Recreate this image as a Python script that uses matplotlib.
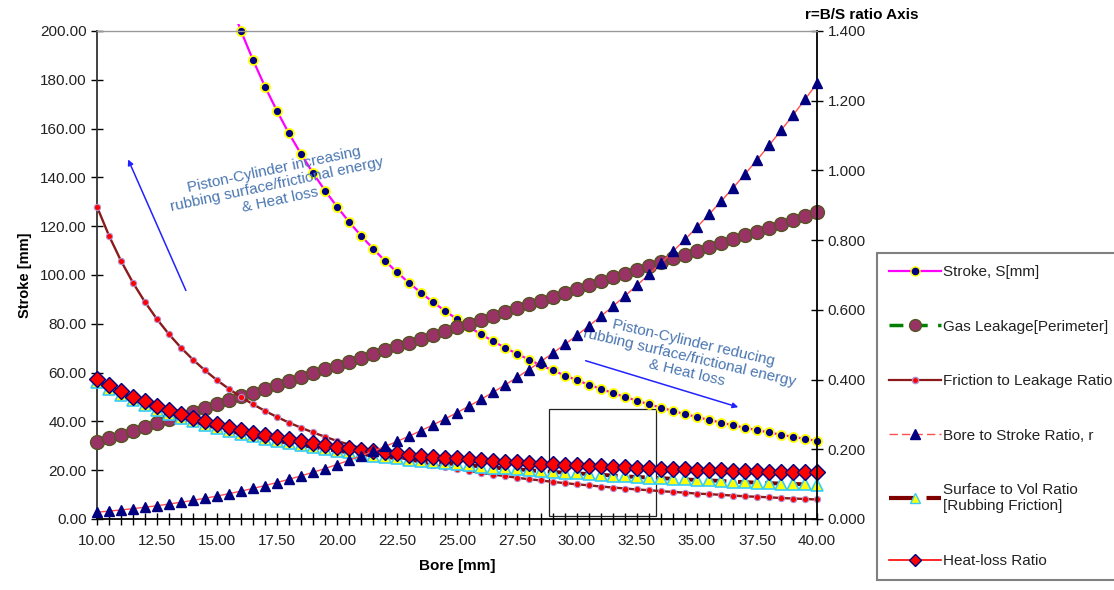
import numpy as np
import matplotlib
matplotlib.use("Agg")
import matplotlib.pyplot as plt
from matplotlib.lines import Line2D
from matplotlib.patches import Rectangle

plt.rcParams['font.family'] = ['Liberation Sans', 'DejaVu Sans']

# Bore [mm], 0.5 mm steps
bore = [10.0, 10.5, 11.0, 11.5, 12.0, 12.5, 13.0, 13.5, 14.0, 14.5,
        15.0, 15.5, 16.0, 16.5, 17.0, 17.5, 18.0, 18.5, 19.0, 19.5,
        20.0, 20.5, 21.0, 21.5, 22.0, 22.5, 23.0, 23.5, 24.0, 24.5,
        25.0, 25.5, 26.0, 26.5, 27.0, 27.5, 28.0, 28.5, 29.0, 29.5,
        30.0, 30.5, 31.0, 31.5, 32.0, 32.5, 33.0, 33.5, 34.0, 34.5,
        35.0, 35.5, 36.0, 36.5, 37.0, 37.5, 38.0, 38.5, 39.0, 39.5, 40.0]

stroke = [512.0, 464.4, 423.1, 387.1, 355.6, 327.7, 303.0, 280.9, 261.2, 243.5,
          227.6, 213.1, 200.0, 188.1, 177.2, 167.2, 158.0, 149.6, 141.8, 134.6,
          128.0, 121.8, 116.1, 110.8, 105.8, 101.1, 96.8, 92.7, 88.9, 85.3,
          81.9, 78.7, 75.7, 72.9, 70.2, 67.7, 65.3, 63.0, 60.9, 58.8,
          56.9, 55.0, 53.3, 51.6, 50.0, 48.5, 47.0, 45.6, 44.3, 43.0,
          41.8, 40.6, 39.5, 38.4, 37.4, 36.4, 35.5, 34.5, 33.7, 32.8, 32.0]

gas_leakage = [31.4, 33.0, 34.6, 36.1, 37.7, 39.3, 40.8, 42.4, 44.0, 45.6,
               47.1, 48.7, 50.3, 51.8, 53.4, 55.0, 56.5, 58.1, 59.7, 61.3,
               62.8, 64.4, 66.0, 67.5, 69.1, 70.7, 72.3, 73.8, 75.4, 77.0,
               78.5, 80.1, 81.7, 83.3, 84.8, 86.4, 88.0, 89.5, 91.1, 92.7,
               94.2, 95.8, 97.4, 99.0, 100.5, 102.1, 103.7, 105.2, 106.8, 108.4,
               110.0, 111.5, 113.1, 114.7, 116.2, 117.8, 119.4, 121.0, 122.5, 124.1, 125.7]

friction = [128.0, 116.1, 105.8, 96.8, 88.9, 81.9, 75.7, 70.2, 65.3, 60.9,
            56.9, 53.3, 50.0, 47.0, 44.3, 41.8, 39.5, 37.4, 35.5, 33.7,
            32.0, 30.5, 29.0, 27.7, 26.4, 25.3, 24.2, 23.2, 22.2, 21.3,
            20.5, 19.7, 18.9, 18.2, 17.6, 16.9, 16.3, 15.8, 15.2, 14.7,
            14.2, 13.8, 13.3, 12.9, 12.5, 12.1, 11.8, 11.4, 11.1, 10.8,
            10.4, 10.2, 9.9, 9.6, 9.3, 9.1, 8.9, 8.6, 8.4, 8.2, 8.0]

bs_ratio = [0.0195, 0.0226, 0.0260, 0.0297, 0.0338, 0.0381, 0.0429, 0.0481, 0.0536, 0.0595,
            0.0659, 0.0727, 0.0800, 0.0877, 0.0960, 0.1047, 0.1139, 0.1237, 0.1340, 0.1448,
            0.1563, 0.1683, 0.1809, 0.1941, 0.2080, 0.2225, 0.2376, 0.2535, 0.2700, 0.2872,
            0.3052, 0.3239, 0.3433, 0.3635, 0.3844, 0.4062, 0.4288, 0.4521, 0.4763, 0.5014,
            0.5273, 0.5542, 0.5819, 0.6105, 0.6400, 0.6705, 0.7019, 0.7343, 0.7677, 0.8020,
            0.8374, 0.8738, 0.9113, 0.9497, 0.9893, 1.0300, 1.0717, 1.1146, 1.1586, 1.2037, 1.2500]

surf_vol = [56.0, 53.3, 50.9, 48.7, 46.7, 44.8, 43.1, 41.5, 40.0, 38.6,
            37.3, 36.1, 35.0, 33.9, 32.9, 32.0, 31.1, 30.3, 29.5, 28.7,
            28.0, 27.3, 26.7, 26.0, 25.5, 24.9, 24.3, 23.8, 23.3, 22.9,
            22.4, 22.0, 21.5, 21.1, 20.7, 20.4, 20.0, 19.6, 19.3, 19.0,
            18.7, 18.4, 18.1, 17.8, 17.5, 17.2, 17.0, 16.7, 16.5, 16.2,
            16.0, 15.8, 15.6, 15.3, 15.1, 14.9, 14.7, 14.5, 14.4, 14.2, 14.0]

heat_loss = [57.5, 54.8, 52.4, 50.2, 48.2, 46.3, 44.6, 43.0, 41.5, 40.1,
             38.8, 37.6, 36.5, 35.4, 34.4, 33.5, 32.6, 31.8, 31.0, 30.2,
             29.5, 28.9, 28.4, 27.8, 27.4, 26.9, 26.3, 25.9, 25.5, 25.2,
             24.8, 24.5, 24.1, 23.8, 23.5, 23.2, 22.9, 22.6, 22.4, 22.2,
             22.0, 21.8, 21.6, 21.4, 21.2, 21.0, 20.8, 20.6, 20.5, 20.3,
             20.2, 20.1, 20.0, 19.8, 19.7, 19.6, 19.4, 19.3, 19.3, 19.2, 19.1]

text_col = '#222222'
note_col = '#4a76b0'

fig = plt.figure(figsize=(11.14, 5.9), dpi=100)
ax = fig.add_axes([97 / 1114, 1 - 519 / 590, 720 / 1114, 488 / 590])
ax2 = ax.twinx()

# stroke goes off the top, so clip it with a slightly bigger box
clip = Rectangle((-0.03, -0.03), 1.06, 1.045, transform=ax.transAxes, visible=False)
ax.add_patch(clip)
l_stroke, = ax.plot(bore, stroke, color='#ff00ff', lw=1.6, marker='o', ms=6.5,
                    mfc='#000080', mec='#ffff00', mew=1.3, zorder=3)
l_stroke.set_clip_path(clip)

l_gas, = ax.plot(bore, gas_leakage, color='#008000', lw=2.2, ls=(0, (4, 3)), marker='o',
                 ms=10, mfc='#993366', mec='#555522', mew=1.0, clip_on=False, zorder=3)
l_fric, = ax.plot(bore, friction, color='#8b1a1a', lw=1.7, marker='o', ms=4.5,
                  mfc='#ff0000', mec='#b090d0', mew=0.8, clip_on=False, zorder=3)
l_surf, = ax.plot(bore, surf_vol, color='#800000', lw=2.8, ls=(0, (4, 3)), marker='^',
                  ms=8, mfc='#ffff00', mec='#33ccff', mew=1.2, clip_on=False, zorder=3)
l_heat, = ax.plot(bore, heat_loss, color='#ff0000', lw=1.0, marker='D', ms=8,
                  mfc='#ff0000', mec='#000080', mew=1.0, clip_on=False, zorder=3)

l_bs, = ax2.plot(bore, bs_ratio, color='#ff5050', lw=1.0, marker='^', ms=7,
                 mfc='#000080', mec='#000080', clip_on=False, zorder=3)

# annotation box and notes
ax.add_patch(Rectangle((28.83, 1.2), 4.46, 43.9, fill=False, ec='#222222', lw=0.9, zorder=2))
ax.annotate('', xy=(11.25, 148.4), xytext=(13.75, 92.6),
            arrowprops=dict(arrowstyle='-|>', color='#2222ff', lw=1.1, mutation_scale=8))
ax.annotate('', xy=(36.83, 45.5), xytext=(30.25, 65.2),
            arrowprops=dict(arrowstyle='-|>', color='#2222ff', lw=1.1, mutation_scale=8))
ax.text(17.5, 137, 'Piston-Cylinder increasing\nrubbing surface/frictional energy\n& Heat loss',
        color=note_col, fontsize=11, ha='center', va='center', rotation=12,
        rotation_mode='anchor', multialignment='center', linespacing=1.15)
ax.text(34.7, 66, 'Piston-Cylinder reducing\nrubbing surface/frictional energy\n& Heat loss',
        color=note_col, fontsize=11, ha='center', va='center', rotation=-13,
        rotation_mode='anchor', multialignment='center', linespacing=1.15)

# axes
ax.set_xlim(10, 40)
ax.set_ylim(0, 200)
ax2.set_ylim(0, 1.4)
ax.set_xticks(np.arange(10, 40.01, 2.5))
ax.set_xticks(np.arange(10, 40.01, 0.5), minor=True)
ax.set_yticks(np.arange(0, 200.01, 20))
ax2.set_yticks(np.arange(0, 1.401, 0.2))
ax.xaxis.set_major_formatter(matplotlib.ticker.FormatStrFormatter('%.2f'))
ax.yaxis.set_major_formatter(matplotlib.ticker.FormatStrFormatter('%.2f'))
ax2.yaxis.set_major_formatter(matplotlib.ticker.FormatStrFormatter('%.3f'))

ax.tick_params(axis='x', which='both', direction='inout', length=9, width=1,
               labelsize=11, labelcolor=text_col, pad=6)
ax.tick_params(axis='y', direction='inout', length=9, width=1,
               labelsize=11, labelcolor=text_col, pad=3)
ax2.tick_params(axis='y', direction='inout', length=9, width=1,
                labelsize=11, labelcolor=text_col, pad=3)

for s in ['top', 'right']:
    ax.spines[s].set_visible(False)
ax.spines['left'].set_linewidth(1.3)
ax.spines['bottom'].set_linewidth(1.3)
ax.spines['left'].set_color('#333333')
ax2.spines['right'].set_linewidth(1.3)
for s in ['left', 'bottom']:
    ax2.spines[s].set_visible(False)
ax2.spines['top'].set_color('#999999')
ax2.spines['top'].set_linewidth(1.0)

ax.set_xlabel('Bore [mm]', fontsize=11, fontweight='bold', labelpad=8)
ax.set_ylabel('Stroke [mm]', fontsize=10.5, fontweight='bold', labelpad=6)
fig.text(862 / 1114, 1 - 15 / 590, 'r=B/S ratio Axis', fontsize=11, fontweight='bold',
         ha='center', va='center')

# legend
h_stroke = Line2D([], [], color='#ff00ff', lw=1.6, marker='o', ms=6.5, mfc='#000080', mec='#ffff00')
h_gas = Line2D([], [], color='#008000', lw=2.5, ls=(0, (4, 3)), marker='o', ms=8.5,
               mfc='#993366', mec='#555522')
h_fric = Line2D([], [], color='#8b1a1a', lw=1.6, marker='o', ms=4.5, mfc='#ff0000', mec='#b090d0')
h_bs = Line2D([], [], color='#ff5050', lw=1.0, ls=(0, (6, 3)), marker='^', ms=7,
              mfc='#000080', mec='#000080')
h_surf = Line2D([], [], color='#800000', lw=3.0, ls=(0, (6, 3)), marker='^', ms=7,
                mfc='#ffff00', mec='#33ccff')
h_heat = Line2D([], [], color='#ff0000', lw=1.2, marker='D', ms=6.5, mfc='#ff0000', mec='#000080')
leg = fig.legend([h_stroke, h_gas, h_fric, h_bs, h_surf, h_heat],
                 ['Stroke, S[mm]', 'Gas Leakage[Perimeter]', 'Friction to Leakage Ratio',
                  'Bore to Stroke Ratio, r', 'Surface to Vol Ratio\n[Rubbing Friction]',
                  'Heat-loss Ratio'],
                 loc='upper left', bbox_to_anchor=(877 / 1114, 1 - 253 / 590), borderaxespad=0,
                 fontsize=11, handlelength=3.4, handletextpad=0.15, labelspacing=2.65,
                 borderpad=0.8, fancybox=False, framealpha=1, edgecolor='#808080')
leg.get_frame().set_linewidth(1.5)
for t in leg.get_texts():
    t.set_color(text_col)

fig.savefig('out.png', dpi=100)
